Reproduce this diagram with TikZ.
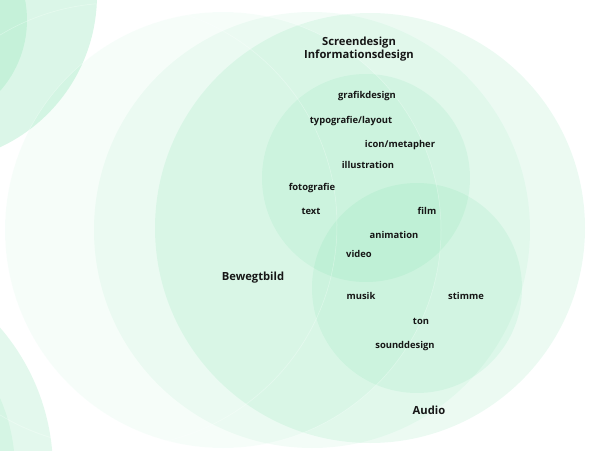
\documentclass[tikz,border=0pt]{standalone}
\usepackage{fontspec}
\setmainfont{Open Sans}
\definecolor{gr}{RGB}{40,204,116}
\definecolor{txt}{RGB}{22,22,22}
\begin{document}
\begin{tikzpicture}[x=1pt,y=-1pt,
  lab/.style={font=\fontsize{9.4}{11}\selectfont\bfseries, text=txt, inner sep=0pt},
  head/.style={font=\fontsize{11.2}{13.6}\selectfont\bfseries, text=txt, inner sep=0pt, align=center},
  seam/.style={draw=white, line width=0.5pt, draw opacity=0.35}]
\useasboundingbox (0,0) rectangle (589,450);
% decorative partial circles at the left edge
\fill[gr, fill opacity=0.17] (-71,-5) circle (168pt);
\fill[gr, fill opacity=0.12] (-80,20) circle (107pt);
\fill[gr, fill opacity=0.13] (-165,470) circle (218pt);
\fill[gr, fill opacity=0.08] (-165,470) circle (180pt);
% large circles
\fill[gr, fill opacity=0.045] (223,230) circle (218pt);
\fill[gr, fill opacity=0.055] (312,230) circle (218pt);
\fill[gr, fill opacity=0.09] (370,228) circle (215pt);
% inner circles
\fill[gr, fill opacity=0.08] (366,178) circle (104pt);
\fill[gr, fill opacity=0.08] (417,288) circle (105pt);
% faint seams
\draw[seam] (223,230) circle (218pt);
\draw[seam] (115,225) circle (222pt);
% labels
\node[head] (scr) at (359,49) {Screendesign\\Informationsdesign};
\node[lab] (gra) at (367,96) {grafikdesign};
\node[lab] (typ) at (351,121) {typografie/layout};
\node[lab] (ico) at (400,145) {icon/metapher};
\node[lab] (ill) at (368,165) {illustration};
\node[lab] (fot) at (312,188) {fotografie};
\node[lab] (tex) at (311,211) {text};
\node[lab] (fil) at (427,211) {film};
\node[lab] (ani) at (394,235) {animation};
\node[lab] (vid) at (359,254) {video};
\node[head] (bew) at (253,278) {Bewegtbild};
\node[lab] (mus) at (361,296) {musik};
\node[lab] (sti) at (466,296) {stimme};
\node[lab] (ton) at (421,321) {ton};
\node[lab] (sou) at (405,346) {sounddesign};
\node[head] (aud) at (429,410) {Audio};
\end{tikzpicture}
\end{document}
